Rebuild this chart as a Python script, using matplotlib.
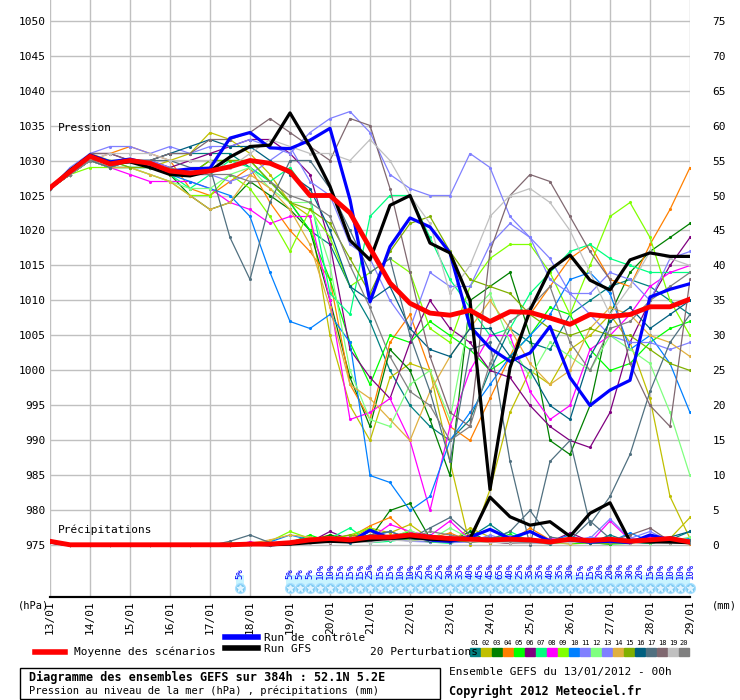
import matplotlib
matplotlib.use("Agg")
import matplotlib.pyplot as plt
import matplotlib.transforms as mtransforms
from matplotlib.patches import Rectangle
import numpy as np

# time axis: 12h steps for members, days of january
t12 = [13 + 0.5 * i for i in range(33)]

# ensemble mean (red), pressure and precip
mean_p = [1026.1, 1028.4, 1030.6, 1029.5, 1030.0, 1029.6, 1028.5, 1028.2, 1028.5, 1029.1,
          1030.0, 1029.6, 1028.4, 1025.0, 1025.0, 1022.5, 1017.5, 1012.5, 1009.6, 1008.2,
          1007.9, 1008.6, 1007.0, 1008.4, 1008.3, 1007.5, 1006.6, 1008.0, 1007.7, 1008.0,
          1009.1, 1009.1, 1010.2]
mean_rr = [0.6, 0.1, 0.1, 0.1, 0.1, 0.1, 0.1, 0.1, 0.1, 0.1, 0.2, 0.2, 0.4, 0.8, 1.0, 0.8,
           1.2, 1.2, 1.5, 1.2, 1.0, 0.9, 0.8, 0.9, 0.8, 0.5, 0.9, 0.7, 0.9, 0.6, 0.8, 1.0, 0.5]

# control run (blue) and GFS run (black)
ctl_p = [1026.0, 1028.5, 1030.8, 1029.8, 1030.2, 1029.5, 1028.5, 1028.8, 1028.9, 1033.2,
         1034.0, 1031.8, 1031.7, 1032.9, 1034.6, 1024.4, 1009.8, 1017.7, 1021.8, 1020.5,
         1016.8, 1006.3, 1003.2, 1001.3, 1002.5, 1006.3, 999.0, 995.0, 997.2, 998.6,
         1010.5, 1011.6, 1012.4]
ctl_rr = [0.5, 0.1, 0.1, 0.1, 0.1, 0.1, 0.1, 0.1, 0.1, 0.1, 0.3, 0.1, 0.3, 0.6, 1.0, 0.5,
          2.2, 1.0, 1.5, 0.8, 0.6, 1.2, 2.3, 1.0, 2.0, 0.6, 0.8, 0.5, 0.6, 0.4, 1.5, 0.8, 0.4]
gfs_p = [1026.0, 1028.6, 1030.7, 1029.6, 1029.8, 1029.0, 1028.0, 1027.8, 1028.5, 1030.5,
         1032.0, 1032.2, 1036.8, 1032.0, 1026.3, 1018.6, 1015.8, 1023.6, 1025.0, 1018.2,
         1016.8, 1010.0, 983.0, 1000.4, 1008.6, 1014.4, 1016.5, 1012.9, 1011.5, 1015.8,
         1016.8, 1016.3, 1016.3]
gfs_rr = [0.5, 0.1, 0.1, 0.1, 0.1, 0.1, 0.1, 0.1, 0.1, 0.1, 0.2, 0.1, 0.2, 0.4, 0.6, 0.5,
          0.8, 1.0, 1.2, 0.9, 0.8, 1.0, 6.9, 4.1, 2.9, 3.4, 1.3, 4.6, 6.1, 0.6, 0.5, 0.5, 0.4]

# 20 perturbations
pert_colors = ['#008080', '#c0c000', '#008000', '#ff8000', '#00ff00', '#800080', '#00ff80',
               '#ff00ff', '#80ff00', '#0080ff', '#8080ff', '#80ff80', '#8080ff', '#e0b040',
               '#80b000', '#006080', '#507080', '#806870', '#c0c0c0', '#808080']
pert_p = [
    [1026, 1028, 1030, 1029, 1030, 1030, 1031, 1031, 1031, 1031, 1029, 1027, 1024, 1020, 1018, 1012, 1007, 1000, 995, 992, 990, 993, 1000, 1006, 1004, 1003, 1008, 1010, 1012, 1013, 1012, 1010, 1008],
    [1026, 1028, 1031, 1030, 1030, 1029, 1030, 1031, 1034, 1033, 1031, 1028, 1024, 1022, 1005, 995, 990, 999, 1001, 1000, 987, 975, 983, 994, 1000, 998, 1003, 1005, 1008, 1004, 996, 982, 976],
    [1026, 1028, 1030, 1029, 1030, 1029, 1028, 1025, 1023, 1024, 1027, 1025, 1023, 1020, 1010, 999, 992, 1003, 1000, 993, 985, 1010, 1012, 1014, 1005, 990, 988, 995, 1008, 1014, 1017, 1019, 1021],
    [1026, 1028, 1030, 1031, 1032, 1031, 1030, 1026, 1025, 1027, 1029, 1024, 1020, 1017, 1013, 998, 993, 1004, 1008, 1000, 992, 990, 996, 1002, 1008, 1012, 1016, 1018, 1013, 1012, 1018, 1023, 1029],
    [1026, 1028, 1030, 1029, 1029, 1029, 1028, 1028, 1030, 1030, 1030, 1027, 1024, 1020, 1013, 1004, 998, 1005, 1004, 1007, 1005, 1003, 1000, 1002, 1005, 1009, 1008, 1003, 1000, 1001, 1004, 1006, 1007],
    [1026, 1028, 1031, 1031, 1030, 1030, 1029, 1030, 1031, 1032, 1033, 1033, 1031, 1028, 1018, 1003, 999, 996, 1004, 1010, 1006, 1004, 1000, 999, 995, 992, 990, 989, 994, 1004, 1010, 1015, 1019],
    [1026, 1028, 1030, 1030, 1029, 1029, 1028, 1026, 1028, 1030, 1029, 1027, 1029, 1025, 1011, 1008, 1022, 1025, 1025, 1019, 1013, 1009, 1005, 1006, 1011, 1014, 1017, 1018, 1016, 1015, 1014, 1014, 1014],
    [1026, 1028, 1030, 1029, 1028, 1027, 1027, 1027, 1026, 1024, 1023, 1021, 1022, 1022, 1010, 993, 994, 996, 990, 980, 992, 1000, 1005, 1005, 997, 993, 995, 1003, 1005, 1008, 1012, 1014, 1015],
    [1026, 1028, 1029, 1029, 1029, 1028, 1027, 1025, 1025, 1028, 1026, 1022, 1017, 1023, 1019, 1012, 1014, 1016, 1014, 1006, 1004, 1012, 1016, 1018, 1018, 1014, 1008, 1015, 1022, 1024, 1019, 1010, 1005],
    [1026, 1028, 1030, 1029, 1029, 1029, 1028, 1027, 1026, 1025, 1022, 1014, 1007, 1006, 1008, 1004, 985, 984, 980, 982, 990, 994, 998, 1002, 1005, 1008, 1013, 1014, 1011, 1003, 1005, 1001, 994],
    [1026, 1029, 1031, 1032, 1032, 1031, 1032, 1031, 1032, 1032, 1033, 1032, 1031, 1034, 1036, 1037, 1034, 1028, 1026, 1025, 1025, 1031, 1029, 1022, 1019, 1016, 1011, 1011, 1014, 1013, 1010, 1016, 1017],
    [1026, 1028, 1030, 1029, 1029, 1028, 1027, 1026, 1026, 1028, 1029, 1026, 1024, 1024, 1015, 1000, 993, 992, 998, 1000, 993, 1008, 1011, 1004, 999, 1004, 1002, 1000, 1005, 1003, 1001, 994, 985],
    [1026, 1028, 1030, 1029, 1030, 1030, 1029, 1028, 1028, 1027, 1028, 1030, 1032, 1027, 1025, 1018, 1016, 1010, 1006, 1014, 1012, 1012, 1018, 1021, 1019, 1013, 1011, 1008, 1005, 1004, 1004, 1003, 1004],
    [1026, 1028, 1030, 1029, 1029, 1028, 1027, 1025, 1023, 1024, 1028, 1026, 1023, 1018, 1009, 998, 996, 993, 990, 997, 1002, 1006, 1010, 1006, 1001, 998, 1000, 1006, 1009, 1008, 1005, 1004, 1002],
    [1026, 1028, 1030, 1030, 1029, 1029, 1028, 1028, 1030, 1030, 1030, 1027, 1024, 1023, 1021, 1016, 1011, 1017, 1021, 1022, 1017, 1013, 1012, 1011, 1008, 1006, 1005, 1006, 1005, 1005, 1003, 1001, 1000],
    [1026, 1028, 1030, 1030, 1030, 1030, 1031, 1032, 1033, 1032, 1032, 1030, 1028, 1026, 1020, 1012, 1010, 1012, 1006, 1003, 1002, 1006, 1006, 1002, 1000, 995, 993, 1002, 1007, 1009, 1006, 1008, 1010],
    [1026, 1028, 1030, 1029, 1030, 1030, 1030, 1029, 1029, 1019, 1013, 1024, 1030, 1030, 1026, 1020, 1014, 1016, 1005, 997, 987, 1003, 1004, 987, 975, 987, 990, 978, 982, 988, 997, 1004, 1008],
    [1026, 1028, 1031, 1031, 1030, 1030, 1031, 1031, 1033, 1033, 1034, 1036, 1034, 1032, 1030, 1036, 1035, 1026, 1014, 1002, 994, 992, 1017, 1025, 1028, 1027, 1022, 1017, 1013, 1001, 995, 992, 1013],
    [1026, 1028, 1030, 1031, 1031, 1031, 1030, 1030, 1030, 1029, 1031, 1033, 1032, 1031, 1031, 1030, 1033, 1030, 1025, 1021, 1011, 1015, 1022, 1025, 1026, 1024, 1020, 1014, 1008, 1012, 1017, 1016, 1015],
    [1026, 1028, 1030, 1030, 1030, 1029, 1029, 1028, 1028, 1028, 1027, 1027, 1025, 1024, 1022, 1015, 1009, 1002, 997, 995, 990, 992, 1001, 1007, 1009, 1012, 1004, 1000, 1006, 1007, 1010, 1012, 1014],
]
pert_rr = [
    [0.6, 0, 0, 0, 0, 0, 0, 0, 0, 0, 0.3, 0, 0.5, 1.2, 0.8, 0.4, 2.0, 1.0, 1.5, 0.6, 0.8, 1.2, 3.0, 1.0, 0.5, 0.2, 0.8, 0.3, 1.5, 0.5, 0.3, 0.8, 2.0],
    [0.5, 0, 0, 0, 0, 0, 0, 0, 0, 0, 0.2, 0, 0.3, 0.8, 1.5, 1.0, 2.5, 1.8, 3.0, 1.0, 0.4, 2.5, 1.2, 0.8, 2.0, 0.5, 0.2, 0.4, 0.3, 1.0, 0.5, 1.0, 4.0],
    [0.6, 0, 0, 0, 0, 0, 0, 0, 0, 0, 0, 0.1, 0.2, 0.6, 1.5, 0.8, 1.0, 5.0, 6.0, 1.0, 0.5, 2.0, 0.4, 1.2, 0.5, 0.3, 0.6, 0.4, 0.2, 0.8, 1.0, 0.5, 0.3],
    [0.5, 0, 0, 0, 0, 0, 0, 0, 0, 0, 0.1, 0.3, 0.4, 1.0, 0.6, 1.2, 2.8, 4.0, 1.5, 1.0, 1.8, 0.6, 1.0, 0.5, 2.5, 0.8, 0.3, 0.6, 0.5, 0.4, 1.5, 0.6, 0.2],
    [0.6, 0, 0, 0, 0, 0, 0, 0, 0, 0, 0.2, 0.1, 0.4, 1.5, 0.5, 1.0, 0.8, 1.2, 2.0, 0.6, 0.5, 1.0, 0.8, 1.6, 0.4, 0.6, 0.3, 0.4, 0.2, 0.3, 0.8, 0.4, 0.5],
    [0.5, 0, 0, 0, 0, 0, 0, 0, 0, 0, 0, 0.2, 0.3, 0.5, 2.0, 0.8, 0.6, 1.0, 1.2, 0.5, 0.8, 1.5, 0.6, 0.3, 1.0, 0.5, 1.8, 0.6, 0.4, 1.0, 0.5, 1.0, 0.3],
    [0.6, 0, 0, 0, 0, 0, 0, 0, 0, 0, 0.2, 0.4, 0.2, 0.8, 1.0, 2.5, 0.4, 0.6, 1.0, 0.5, 0.3, 1.0, 0.8, 2.0, 0.6, 0.4, 0.8, 0.5, 0.4, 0.6, 0.3, 0.8, 0.5],
    [0.5, 0, 0, 0, 0, 0, 0, 0, 0, 0, 0.5, 0.1, 0.3, 0.6, 0.8, 1.2, 1.0, 3.0, 2.0, 1.4, 3.5, 0.8, 1.0, 0.6, 0.5, 1.0, 0.6, 0.4, 3.5, 0.8, 1.2, 0.4, 0.3],
    [0.6, 0, 0, 0, 0, 0, 0, 0, 0, 0.4, 0.1, 0.6, 2.0, 1.0, 0.8, 1.5, 2.5, 1.0, 0.8, 0.5, 0.8, 1.0, 0.5, 0.6, 0.3, 0.5, 0.4, 0.6, 0.3, 0.5, 0.6, 0.4, 0.8],
    [0.5, 0, 0, 0, 0, 0, 0, 0, 0, 0, 0.2, 0.5, 1.5, 0.8, 0.5, 1.0, 1.2, 2.0, 1.0, 1.5, 0.6, 0.8, 1.2, 0.5, 0.4, 0.6, 1.5, 0.3, 0.5, 1.8, 0.6, 0.8, 1.0],
    [0.6, 0, 0, 0, 0, 0, 0, 0, 0, 0, 0.1, 0.2, 0.4, 0.8, 0.5, 0.6, 1.0, 0.8, 1.2, 0.6, 0.4, 0.5, 1.5, 0.6, 0.3, 0.4, 0.6, 1.0, 3.8, 1.0, 0.6, 0.8, 0.5],
    [0.5, 0, 0, 0, 0, 0, 0, 0, 0, 0, 0.3, 0.1, 0.5, 1.0, 1.2, 0.8, 1.5, 1.0, 2.2, 0.8, 2.5, 1.0, 0.6, 0.8, 0.5, 0.3, 0.4, 0.6, 0.5, 0.8, 0.4, 0.6, 1.2],
    [0.6, 0, 0, 0, 0, 0, 0, 0, 0, 0, 0.2, 0.3, 0.2, 0.6, 0.8, 0.5, 0.8, 1.0, 0.6, 0.5, 1.0, 0.4, 0.8, 1.4, 0.6, 0.4, 0.5, 1.2, 0.8, 1.0, 2.0, 0.6, 0.4],
    [0.5, 0, 0, 0, 0, 0, 0, 0, 0, 0, 0.3, 0.8, 1.5, 1.2, 0.6, 1.0, 2.0, 0.8, 1.4, 0.6, 0.5, 0.8, 0.4, 0.6, 1.0, 0.5, 0.3, 0.8, 0.6, 0.4, 0.5, 0.6, 0.3],
    [0.6, 0, 0, 0, 0, 0, 0, 0, 0, 0, 0.1, 0.2, 0.3, 0.6, 1.0, 1.5, 1.2, 0.8, 1.0, 0.6, 0.8, 0.5, 0.6, 0.4, 0.8, 0.5, 0.6, 0.4, 0.3, 0.5, 0.6, 0.4, 0.3],
    [0.5, 0, 0, 0, 0, 0, 0, 0, 0, 0, 0.2, 0.1, 0.4, 0.5, 1.0, 0.8, 1.2, 0.8, 1.0, 0.6, 0.5, 0.8, 0.6, 0.5, 0.4, 0.6, 0.5, 0.4, 0.6, 0.5, 0.8, 1.2, 2.0],
    [0.6, 0, 0, 0, 0, 0, 0, 0, 0, 0.6, 1.5, 0.4, 0.3, 0.8, 0.6, 1.0, 1.5, 2.0, 1.0, 2.5, 4.0, 1.5, 0.8, 2.0, 5.0, 1.2, 0.8, 3.5, 1.0, 0.6, 0.5, 0.4, 0.8],
    [0.5, 0, 0, 0, 0, 0, 0, 0, 0, 0, 0.1, 0.2, 0.3, 0.6, 0.4, 0.8, 1.0, 1.2, 1.5, 0.8, 1.0, 0.6, 0.5, 0.3, 0.4, 0.6, 0.8, 0.5, 0.6, 1.5, 2.5, 0.6, 0.3],
    [0.6, 0, 0, 0, 0, 0, 0, 0, 0, 0, 0.1, 0.1, 0.2, 0.4, 0.5, 0.6, 0.4, 0.8, 0.6, 0.8, 1.2, 0.6, 0.5, 0.4, 0.3, 0.5, 0.4, 0.6, 0.5, 0.4, 0.6, 0.3, 0.4],
    [0.5, 0, 0, 0, 0, 0, 0, 0, 0, 0, 0.2, 0.3, 0.2, 0.5, 0.8, 1.0, 0.8, 1.2, 1.0, 2.0, 1.5, 1.0, 0.8, 0.6, 0.5, 0.4, 0.8, 0.6, 0.4, 0.5, 0.6, 0.5, 0.4],
]

# snow probability (6h steps)
snow_t = [17.75] + [19 + 0.25 * i for i in range(41)]
snow_pct = [5, 5, 5, 5, 10, 10, 15, 15, 15, 25, 15, 15, 10, 10, 25, 20, 25, 30, 35, 40, 45,
            45, 65, 40, 25, 35, 35, 40, 35, 30, 15, 15, 20, 20, 30, 30, 20, 15, 10, 10, 10, 10]

days = list(range(13, 30))
p_ticks = list(range(975, 1051, 5))
mm_labels = [str(v - 975) for v in p_ticks]

mono = 'DejaVu Sans Mono'
fig = plt.figure(figsize=(7.4, 7.0), dpi=100)
ax = fig.add_axes([50 / 740, 103 / 700, 640 / 740, 597 / 700])
ax.set_xlim(13, 29)
ax.set_ylim(967.64, 1052.93)

for d in days:
    ax.axvline(d, color='#c0c0c0', lw=1, zorder=0)
for p in p_ticks:
    ax.axhline(p, color='#c0c0c0', lw=1, zorder=0)

for c, pp, rr in zip(pert_colors, pert_p, pert_rr):
    ax.plot(t12, pp, color=c, lw=0.9, marker='.', ms=2.5, zorder=2)
    ax.plot(t12, np.array(rr) + 975, color=c, lw=0.9, marker='.', ms=2.5, zorder=2)

ax.plot(t12, ctl_p, color='#0000ff', lw=2.3, zorder=3)
ax.plot(t12, np.array(ctl_rr) + 975, color='#0000ff', lw=2.3, zorder=3)
ax.plot(t12, gfs_p, color='black', lw=2.3, zorder=3)
ax.plot(t12, np.array(gfs_rr) + 975, color='black', lw=2.3, zorder=3)
ax.plot(t12, mean_p, color='#ff0000', lw=3.5, zorder=4)
ax.plot(t12, np.array(mean_rr) + 975, color='#ff0000', lw=3.5, zorder=4)

# snow row
ax.add_patch(Rectangle((18.9, 969.3), 10.15, 1.5, color='#c8f4ff', lw=0, zorder=1))
ax.add_patch(Rectangle((17.65, 969.3), 0.2, 1.5, color='#c8f4ff', lw=0, zorder=1))
ax.plot(snow_t, [968.9] * len(snow_t), ls='none', marker='o', ms=7, mfc='#78c8f0',
        mec='#a8e0ff', zorder=5, clip_on=False)
ax.plot(snow_t, [968.9] * len(snow_t), ls='none', marker='*', ms=5, color='#e0f4ff',
        zorder=6, clip_on=False)
for x, v in zip(snow_t, snow_pct):
    ax.text(x, 970.2, f'{v}%', rotation=90, ha='center', va='bottom', color='#0000ff',
            fontsize=6.5, family=mono, zorder=6)

ax.set_yticks(p_ticks)
ax.set_yticklabels([str(p) for p in p_ticks], family=mono, fontsize=8)
ax.tick_params(axis='y', length=0, pad=3)
ax.set_xticks([])
axr = ax.twinx()
axr.set_ylim(ax.get_ylim())
axr.set_yticks(p_ticks)
axr.set_yticklabels(mm_labels, family=mono, fontsize=8)
axr.tick_params(axis='y', length=0, pad=16)
for a in (ax, axr):
    for s in ('left', 'right', 'top'):
        a.spines[s].set_visible(False)
    a.spines['bottom'].set_color('black')
    a.spines['bottom'].set_linewidth(1.5)

tr = mtransforms.blended_transform_factory(ax.transData, ax.transAxes)
for d in days:
    ax.text(d, -0.006, f'{d}/01', rotation=90, ha='center', va='top', transform=tr,
            family=mono, fontsize=8)

ax.text(13.2, 1034.2, 'Pression', family=mono, fontsize=8)
ax.text(13.2, 976.8, 'Précipitations', family=mono, fontsize=8)

# texts and legend below the chart
fig.text(18 / 740, 1 - 606 / 700, '(hPa)', family=mono, fontsize=7.5, va='center')
fig.text(712 / 740, 1 - 606 / 700, '(mm)', family=mono, fontsize=7.5, va='center')
fig.lines.append(plt.Line2D([35 / 740, 65 / 740], [1 - 652 / 700] * 2, color='#ff0000', lw=4,
                            transform=fig.transFigure))
fig.text(74 / 740, 1 - 652 / 700, 'Moyenne des scénarios', family=mono, fontsize=8, va='center')
fig.lines.append(plt.Line2D([225 / 740, 258 / 740], [1 - 637 / 700] * 2, color='#0000ff', lw=4,
                            transform=fig.transFigure))
fig.text(264 / 740, 1 - 638 / 700, 'Run de contrôle', family=mono, fontsize=8, va='center')
fig.lines.append(plt.Line2D([225 / 740, 258 / 740], [1 - 648 / 700] * 2, color='black', lw=4,
                            transform=fig.transFigure))
fig.text(264 / 740, 1 - 649 / 700, 'Run GFS', family=mono, fontsize=8, va='center')
fig.text(370 / 740, 1 - 652 / 700, '20 Perturbations', family=mono, fontsize=8, va='center')
for i, c in enumerate(pert_colors):
    x0 = 470 + i * 11
    fig.patches.append(Rectangle((x0 / 740, 1 - 656 / 700), 10 / 740, 8 / 700, color=c,
                                 transform=fig.transFigure))
    fig.text((x0 + 5) / 740, 1 - 643 / 700, f'{i + 1:02d}', family=mono, fontsize=5,
             ha='center', va='center')

fig.patches.append(Rectangle((20 / 740, 1 / 700), 420 / 740, 31 / 700, fill=False,
                             ec='black', lw=1, transform=fig.transFigure))
fig.text(29 / 740, 1 - 677 / 700, 'Diagramme des ensembles GEFS sur 384h : 52.1N 5.2E',
         family=mono, fontsize=8.5, weight='bold', va='center')
fig.text(29 / 740, 1 - 691 / 700, 'Pression au niveau de la mer (hPa) , précipitations (mm)',
         family=mono, fontsize=7.5, va='center')
fig.text(449 / 740, 1 - 672 / 700, 'Ensemble GEFS du 13/01/2012 - 00h', family=mono,
         fontsize=8, va='center')
fig.text(449 / 740, 1 - 691 / 700, 'Copyright 2012 Meteociel.fr', family=mono,
         fontsize=8.5, weight='bold', va='center')

fig.savefig('out.png', dpi=100, facecolor='white')
